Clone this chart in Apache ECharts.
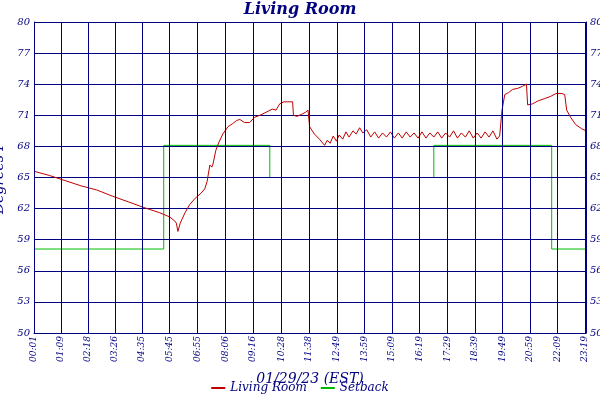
<!DOCTYPE html>
<html>
<head>
<meta charset="utf-8">
<script src="https://cdn.jsdelivr.net/npm/echarts@6/dist/echarts.min.js"></script>
<style>html,body{margin:0;padding:0;background:#fff}</style>
</head>
<body>
<div id="chart" style="width:600px;height:400px"></div>
<script>
// minutes since midnight for x ticks
var tickMinutes = [1, 69, 138, 206, 275, 345, 415, 486, 556, 628, 698, 769, 839, 909, 979, 1049, 1119, 1189, 1259, 1329, 1398, 1401];
var tickLabels = ['00:01', '01:09', '02:18', '03:26', '04:35', '05:45', '06:55', '08:06', '09:16', '10:28', '11:38', '12:49', '13:59', '15:09', '16:19', '17:29', '18:39', '19:49', '20:59', '22:09', '23:19', '23:24'];

var livingRoom = [
  [1, 65.6], [40, 65.2], [80, 64.7], [120, 64.2], [160, 63.8], [200, 63.2], [244, 62.6], [280, 62.1], [320, 61.6], [345, 61.2], [358, 60.8],
  [362, 60.6], [366, 59.8], [372, 60.6], [384, 61.6], [396, 62.4], [410, 63.0], [425, 63.5], [434, 63.9], [440, 64.6], [447, 66.2], [452, 66.0], [455, 66.3],
  [462, 67.6], [470, 68.4], [480, 69.2], [493, 69.9], [505, 70.2], [515, 70.5], [523, 70.6], [535, 70.3], [548, 70.3], [560, 70.8], [574, 71.0],
  [590, 71.3], [605, 71.6], [615, 71.5], [624, 72.1], [635, 72.3], [645, 72.3], [657, 72.3], [659, 71.0], [668, 70.9], [680, 71.1], [690, 71.3], [696, 71.5],
  [700, 69.9], [712, 69.2], [725, 68.7], [738, 68.1], [745, 68.6], [752, 68.3], [760, 69.0], [768, 68.5], [775, 69.1], [784, 68.7], [792, 69.4], [800, 68.9],
  [810, 69.5], [818, 69.2], [827, 69.8], [835, 69.3], [845, 69.6], [855, 68.9], [865, 69.4], [875, 68.8], [885, 69.3], [895, 68.9], [905, 69.4], [915, 68.8],
  [925, 69.3], [935, 68.8], [945, 69.4], [955, 68.9], [965, 69.3], [975, 68.8], [985, 69.4], [995, 68.8], [1005, 69.3], [1015, 68.9], [1025, 69.4],
  [1035, 68.8], [1045, 69.3], [1055, 68.9], [1065, 69.5], [1075, 68.8], [1085, 69.3], [1095, 68.9], [1105, 69.5], [1115, 68.8], [1125, 69.3], [1135, 68.8],
  [1145, 69.4], [1155, 68.9], [1165, 69.5], [1175, 68.7], [1182, 69.0], [1188, 71.5], [1195, 73.0], [1205, 73.2], [1215, 73.5], [1228, 73.6], [1240, 73.8],
  [1250, 74.0], [1253, 72.0], [1265, 72.1], [1280, 72.4], [1295, 72.6], [1310, 72.8], [1325, 73.1], [1340, 73.1], [1347, 73.0], [1352, 71.5], [1362, 70.8],
  [1375, 70.1], [1390, 69.7], [1401, 69.5]
];
var setback = [
  [1, 58.1], [330, 58.1], [330, 68.1], [599, 68.1], [599, 65.0], [1015, 65.0], [1015, 68.1], [1314, 68.1], [1314, 58.1], [1401, 58.1]
];

var navy = '#000080';
var font = 'DejaVu Serif';
var chart = echarts.init(document.getElementById('chart'));
var yAxisBase = {
  type: 'value', min: 50, max: 80, interval: 3,
  axisLine: { show: true, lineStyle: { color: navy } },
  axisTick: { show: false },
  axisLabel: { color: navy, fontFamily: font, fontStyle: 'italic', fontSize: 10, margin: 4 }
};
chart.setOption({
  animation: false,
  backgroundColor: '#fff',
  title: {
    text: 'Living Room', left: 'center', top: -3,
    textStyle: { color: navy, fontFamily: font, fontStyle: 'italic', fontWeight: 'bold', fontSize: 16 }
  },
  legend: {
    bottom: 1, left: 'center', itemWidth: 14, itemHeight: 2, itemGap: 14,
    icon: 'rect',
    textStyle: { color: navy, fontFamily: font, fontStyle: 'italic', fontSize: 12 },
    data: ['Living Room', 'Setback']
  },
  grid: { left: 34, right: 14, top: 22, bottom: 67, containLabel: false, outerBoundsMode: 'none' },
  xAxis: {
    type: 'value', min: 1, max: 1401,
    name: '01/29/23 (EST)', nameLocation: 'middle', nameGap: 39,
    nameTextStyle: { color: navy, fontFamily: font, fontStyle: 'italic', fontSize: 14 },
    axisLine: { show: true, lineStyle: { color: navy } },
    axisTick: { show: false, customValues: tickMinutes },
    splitLine: { show: false },
    axisLabel: {
      customValues: tickMinutes, rotate: 90, color: navy, fontFamily: font, fontStyle: 'italic', fontSize: 9, margin: 3,
      formatter: function (v) { return tickLabels[tickMinutes.indexOf(v)] || ''; }
    }
  },
  yAxis: [
    Object.assign({}, yAxisBase, {
      name: 'Degrees F', nameLocation: 'middle', nameGap: 22,
      nameTextStyle: { color: navy, fontFamily: font, fontStyle: 'italic', fontSize: 14 },
      splitLine: { show: true, lineStyle: { color: navy, width: 1 } }
    }),
    Object.assign({}, yAxisBase, { position: 'right', splitLine: { show: false } })
  ],
  series: [
    {
      name: 'Setback', type: 'line', z: -1, data: setback, showSymbol: false,
      lineStyle: { color: '#00bb00', width: 1 }, itemStyle: { color: '#00bb00' },
      markLine: {
        silent: true, symbol: ['none', 'none'], label: { show: false },
        lineStyle: { color: navy, type: 'solid', width: 1 },
        data: tickMinutes.map(function (m) { return { xAxis: m }; })
      }
    },
    { name: 'Living Room', type: 'line', z: 3, data: livingRoom, showSymbol: false, lineStyle: { color: '#c00000', width: 1 }, itemStyle: { color: '#c00000' } }
  ]
});
</script>
</body>
</html>
